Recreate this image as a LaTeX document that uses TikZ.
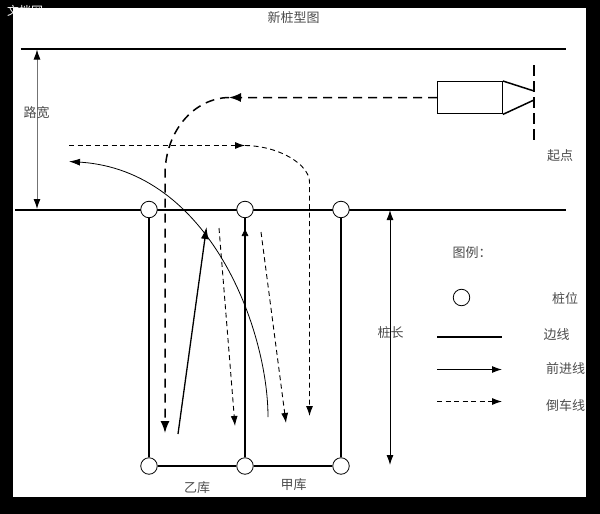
\documentclass[tikz,border=0pt]{standalone}
\usepackage{fontspec}
\usetikzlibrary{arrows.meta}
\setmainfont{Noto Sans CJK SC}
\definecolor{txt}{gray}{0.3}
\tikzset{
  x=1pt,y=-1pt,
  pile/.style={circle,draw=black,fill=white,line width=0.8pt,minimum size=16.5pt,inner sep=0pt},
  edge/.style={draw=black,line width=1.5pt},
  fwd/.style={draw=black,line width=1.3pt,-{Latex[length=12pt,width=8pt]}},
  fwdthin/.style={draw=black,line width=1.1pt,-{Latex[length=10pt,width=7pt]}},
  dim/.style={draw=black,line width=1pt,{Latex[length=10pt,width=7pt,black]}-{Latex[length=10pt,width=7pt,black]}},
  rev/.style={draw=black,line width=0.9pt,dash pattern=on 5pt off 3.5pt,-{Latex[length=10pt,width=7pt]}},
  revbold/.style={draw=black,line width=1.5pt,dash pattern=on 9pt off 6pt,-{Latex[length=12pt,width=9pt]}},
  lbl/.style={text=txt,font=\fontsize{13}{13}\selectfont,inner sep=0pt}
}
\begin{document}
\begin{tikzpicture}
\useasboundingbox (0,0) rectangle (600,514);
\fill[black] (0,0) rectangle (600,514);
\node[text=white,font=\fontsize{12}{12}\selectfont,inner sep=0pt] (mark) at (25,11) {文档网};
\fill[white] (13.3,8.3) rectangle (585.7,497);
% road
\coordinate (r1a) at (20.5,49); \coordinate (r1b) at (566,49);
\coordinate (r2a) at (15,210); \coordinate (r2b) at (566,210);
\coordinate (r2c) at (21,210);
\draw[edge] (r1a) -- (r1b);
\draw[edge] (r2a) -- (r2b);
\draw[draw=black,line width=2.2pt] (r2a) -- (r2c);
% dimension lines
\coordinate (d1a) at (37,49.5); \coordinate (d1b) at (37,209);
\draw[dim,draw=black!55] (d1a) -- (d1b);
\coordinate (d2a) at (390,210); \coordinate (d2b) at (390,465);
\draw[dim] (d2a) -- (d2b);
% piles
\node[pile] (p1) at (149,209.5) {};
\node[pile] (p2) at (245,209.5) {};
\node[pile] (p3) at (341,209.5) {};
\node[pile] (p4) at (149,466) {};
\node[pile] (p5) at (245,466) {};
\node[pile] (p6) at (341,466) {};
\draw[edge] (p1) -- (p4);
\draw[edge] (p3) -- (p6);
\draw[edge] (p4) -- (p5);
\draw[edge] (p5) -- (p6);
\draw[edge] (p5) -- (p2);
\coordinate (m1) at (245,242); \coordinate (m2) at (245,228);
\draw[draw=black,line width=0.6pt,-{Latex[length=8pt,width=7pt]}] (m1) -- (m2);
% vehicle
\node[draw=black,line width=1.4pt,minimum width=64.5pt,minimum height=32pt,inner sep=0pt,anchor=north west] (car) at (437,81) {};
\coordinate (n1) at (534,91); \coordinate (n2) at (534,100);
\draw[edge] (car.north east) -- (n1);
\draw[edge] (car.south east) -- (n2);
\coordinate (s1) at (534,65); \coordinate (s2) at (534,142);
\draw[draw=black,line width=1.2pt,dash pattern=on 11pt off 5pt] (s1) -- (s2);
% bold dashed path
\coordinate (a0) at (229,97.5);
\coordinate (b1) at (165,433);
\draw[revbold] (car.west) -- (a0);
\draw[revbold] (a0) .. controls (195,98) and (165,130) .. (165,175) -- (b1);
% thin dashed path
\coordinate (t1) at (69,145.5);\coordinate (t2) at (245,145.5);\coordinate (t3) at (309.5,416);
\draw[rev] (t1) -- (t2);
\draw[rev] (t2) .. controls (280,146) and (309.5,165) .. (309.5,182) -- (t3);
% long curve
\coordinate (c1) at (268,417); \coordinate (c2) at (69,161.5);
\draw[draw=black,line width=0.8pt,-{Latex[length=11pt,width=7pt]}] (c1) .. controls (268,330) and (210,170) .. (c2);
% forward arrow
\coordinate (f1) at (178,434); \coordinate (f2) at (206.5,227);
\draw[fwd] (f1) -- (f2);
% dashed inside
\coordinate (g1) at (219,228);\coordinate (g2) at (235,426);
\draw[rev] (g1) -- (g2);
\coordinate (h1) at (261,232);\coordinate (h2) at (286,423);
\draw[rev] (h1) -- (h2);
% legend
\node[circle,draw=black,line width=0.8pt,minimum size=16.5pt,inner sep=0pt] (lp) at (461.5,297.5) {};
\coordinate (l1a) at (437,337); \coordinate (l1b) at (502,337);
\draw[edge] (l1a) -- (l1b);
\coordinate (l2a) at (437,369.5); \coordinate (l2b) at (502,369.5);
\draw[fwdthin] (l2a) -- (l2b);
\coordinate (l3a) at (437,401.5); \coordinate (l3b) at (502,401.5);
\draw[rev] (l3a) -- (l3b);
% texts
\node[lbl] (title) at (293.5,18) {新桩型图};
\node[lbl] (lukuan) at (36.5,113) {路宽};
\node[lbl] (qidian) at (560,155.7) {起点};
\node[lbl,anchor=west] (tuli) at (452.5,252.7) {图例：};
\node[lbl] (zhuangwei) at (565,299) {桩位};
\node[lbl] (zhuangchang) at (390.5,333) {桩长};
\node[lbl] (bianxian) at (556.5,335) {边线};
\node[lbl] (qianjin) at (565.5,369) {前进线};
\node[lbl] (daoche) at (565.5,405.5) {倒车线};
\node[lbl] (yi) at (197,488) {乙库};
\node[lbl] (jia) at (293.5,485) {甲库};
\end{tikzpicture}
\end{document}
